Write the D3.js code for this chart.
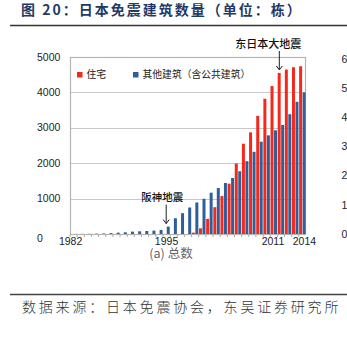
<!DOCTYPE html>
<html>
<head>
<meta charset="utf-8">
<script src="https://cdn.jsdelivr.net/npm/d3@7"></script>
<style>
  html, body { margin: 0; padding: 0; background: #fff; }
  svg { display: block; }
</style>
</head>
<body>
<svg id="chart" width="347" height="339"></svg>
<script>
// ---- data ----
const years = [1982,1983,1984,1985,1986,1987,1988,1989,1990,1991,1992,1993,1994,1995,1996,1997,1998,
               1999,2000,2001,2002,2003,2004,2005,2006,2007,2008,2009,2010,2011,2012,2013,2014];
const housing = [0,0,0,0,0,0,0,0,0,0,0,0,0,0,0,0,0,
                 38,161,427,758,1071,1422,1991,2550,2872,3336,3820,4180,4550,4645,4711,4739];
const others = [2,3,5,10,15,25,38,48,67,76,86,95,114,209,445,588,749,
                891,995,1166,1299,1441,1583,1773,2057,2322,2607,2787,2929,3081,3384,3735,4000];
const seriesNames = ["住宅", "其他建筑（含公共建筑）"];
const leftTicks = [0,1000,2000,3000,4000,5000];
const rightTicks = [0,1000,2000,3000,4000,5000,6000];
const xLabels = [1982,1995,2011,2014];
const annotations = [
  {year: 1995, text: "阪神地震"},
  {year: 2011, text: "东日本大地震"}
];
const titleText = "图 20：日本免震建筑数量（单位：栋）";
const sourceText = "数据来源：日本免震协会，东吴证券研究所";
const captionText = "(a) 总数";

// ---- layout ----
const svg = d3.select("#chart");
const plot = {left: 70, right: 306, top: 57, bottom: 234};
const RED = "#f5281c", BLUE = "#2f5f9a";
const sans = "'Liberation Sans', Arial, 'Noto Sans CJK SC', sans-serif";
const cjk = "'Noto Sans CJK SC', sans-serif";

const x = d3.scaleBand().domain(years).range([plot.left, plot.right]).paddingInner(0.08).paddingOuter(0.04);
const y = d3.scaleLinear().domain([0, 5000]).range([plot.bottom, plot.top]);
const y2 = d3.scaleLinear().domain([0, 6000]).range([plot.bottom, plot.top + 2]);

// title
svg.append("text").attr("x", 21).attr("y", 15)
  .attr("font-family", cjk).attr("font-weight", 700).attr("font-size", 14)
  .attr("letter-spacing", 2.0).attr("fill", "#1f3a66").text(titleText);
svg.append("line").attr("x1", 10).attr("x2", 347).attr("y1", 25.5).attr("y2", 25.5)
  .attr("stroke", "#333").attr("stroke-width", 1.4);

// gridlines
svg.append("g").selectAll("line").data(leftTicks.filter(d => d > 0 && d < 5000)).join("line")
  .attr("x1", plot.left).attr("x2", plot.right)
  .attr("y1", d => Math.round(y(d)) + 0.5).attr("y2", d => Math.round(y(d)) + 0.5)
  .attr("stroke", "#c8c8c8").attr("stroke-width", 1);

// frame
svg.append("rect").attr("x", plot.left + 0.5).attr("y", plot.top + 0.5)
  .attr("width", plot.right - plot.left - 1).attr("height", plot.bottom - plot.top)
  .attr("fill", "none").attr("stroke", "#b4b4b4").attr("stroke-width", 1.2);

// x minor ticks
const xAxis = d3.axisBottom(x).tickSize(2.5).tickFormat("");
const gx = svg.append("g").attr("transform", `translate(0,${plot.bottom + 0.5})`).call(xAxis);
gx.select(".domain").remove();
gx.selectAll(".tick line").attr("stroke", "#aaa")
  .attr("transform", `translate(${-x.step()/2},0)`);

// bars
const bw = x.bandwidth() / 2;
svg.append("g").selectAll("rect").data(years).join("rect")
  .attr("x", d => x(d)).attr("width", bw - 0.3)
  .attr("y", (d, i) => y(housing[i])).attr("height", (d, i) => y(0) - y(housing[i]))
  .attr("fill", RED);
svg.append("g").selectAll("rect").data(years).join("rect")
  .attr("x", d => x(d) + bw + 0.2).attr("width", bw - 0.3)
  .attr("y", (d, i) => y(others[i])).attr("height", (d, i) => y(0) - y(others[i]))
  .attr("fill", BLUE);

// left axis labels (left aligned)
svg.append("g").selectAll("text").data(leftTicks).join("text")
  .attr("x", 37).attr("y", d => y(d) + (d === 0 ? 4 : 0))
  .attr("dy", "0.35em").attr("font-family", sans).attr("font-size", 10.5)
  .attr("fill", "#222").text(d => d);

// right axis labels (cut by the picture edge, as in the source)
svg.append("g").selectAll("text").data(rightTicks).join("text")
  .attr("x", 341.5).attr("y", d => y2(d))
  .attr("dy", "0.35em").attr("font-family", sans).attr("font-size", 10.5)
  .attr("fill", "#222").text(d => d);

// x labels
const labelShift = {1982: -3, 1995: 0, 2011: -8, 2014: 2};
svg.append("g").selectAll("text").data(xLabels).join("text")
  .attr("x", d => x(d) + x.bandwidth() / 2 + labelShift[d]).attr("y", plot.bottom + 7)
  .attr("dy", "0.35em").attr("text-anchor", "middle")
  .attr("font-family", sans).attr("font-size", 10.5).attr("fill", "#222").text(d => d);

// caption
svg.append("text").attr("x", 171).attr("y", 254).attr("dy", "0.35em")
  .attr("text-anchor", "middle").attr("font-family", cjk).attr("font-size", 12.5)
  .attr("fill", "#666").text(captionText);

// legend
const legend = svg.append("g");
[[77, RED], [133, BLUE]].forEach((p, i) => {
  legend.append("rect").attr("x", p[0]).attr("y", 72).attr("width", 5.5).attr("height", 5.5).attr("fill", p[1]);
  legend.append("text").attr("x", p[0] + 9.5).attr("y", 75).attr("dy", "0.35em")
    .attr("font-family", cjk).attr("font-size", 9.8).attr("fill", "#222").text(seriesNames[i]);
});

// annotations
annotations.forEach(a => {
  const i = years.indexOf(a.year);
  const isRed = a.year === 2011;
  const cx = isRed ? x(a.year) + bw / 2 : x(a.year) + bw * 1.5 - 2;
  const top = isRed ? y(housing[i]) : y(others[i]);
  const arrowBottom = top - 3;
  const arrowTop = arrowBottom - 19;
  const g = svg.append("g").attr("stroke", "#222").attr("fill", "none").attr("stroke-width", 1);
  g.append("line").attr("x1", cx).attr("x2", cx).attr("y1", arrowTop).attr("y2", arrowBottom);
  g.append("path").attr("d", `M${cx - 3},${arrowBottom - 4}L${cx},${arrowBottom}L${cx + 3},${arrowBottom - 4}`);
  svg.append("text").attr("x", isRed ? cx - 11 : cx - 4).attr("y", arrowTop - 7)
    .attr("dy", "0.35em").attr("text-anchor", "middle")
    .attr("font-family", cjk).attr("font-size", isRed ? 11 : 10.5).attr("font-weight", 500)
    .attr("fill", "#111").text(a.text);
});

// source
svg.append("line").attr("x1", 10).attr("x2", 347).attr("y1", 294.5).attr("y2", 294.5)
  .attr("stroke", "#444").attr("stroke-width", 1.4);
svg.append("text").attr("x", 22).attr("y", 307).attr("dy", "0.35em")
  .attr("font-family", cjk).attr("font-weight", 300).attr("font-size", 14)
  .attr("letter-spacing", 2.8).attr("fill", "#333").text(sourceText);
</script>
</body>
</html>
